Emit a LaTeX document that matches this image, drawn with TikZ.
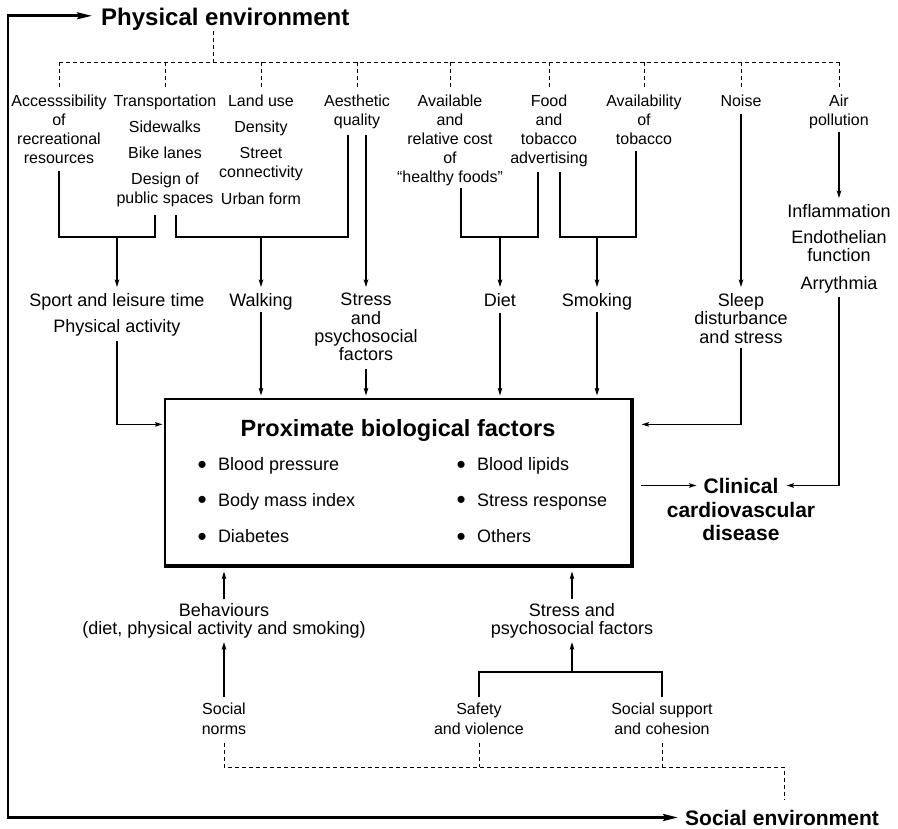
\documentclass[tikz,border=0pt]{standalone}
\usepackage{fontspec}
\setmainfont{Liberation Sans}
\usetikzlibrary{arrows.meta}
\newcommand{\bdot}{\makebox[19pt][l]{\hspace{-1.5pt}\raisebox{-2.7pt}{\fontsize{26}{26}\selectfont •}}}

\begin{document}
\begin{tikzpicture}[x=1pt, y=-1pt,
  toplbl/.style={align=center, inner sep=0pt, anchor=north, font=\fontsize{16}{19}\selectfont},
  midlbl/.style={align=center, inner sep=0pt, anchor=north, font=\fontsize{18}{18.5}\selectfont},
  botlbl/.style={align=center, inner sep=0pt, anchor=north, font=\fontsize{16}{20}\selectfont},
  head/.style={inner sep=0pt, font=\bfseries\fontsize{24}{26}\selectfont},
  bitem/.style={inner sep=0pt, anchor=base west, font=\fontsize{18}{20}\selectfont},
  ln/.style={line width=1.1pt},
  arr/.style={ln, -{Stealth[length=7.5pt,width=4.6pt,inset=1.5pt]}},
  dashln/.style={line width=0.9pt, dash pattern=on 4pt off 3pt},
  loopline/.style={line width=2.6pt, {Stealth[length=15pt,width=7pt,inset=2.5pt]}-{Stealth[length=15pt,width=7pt,inset=2.5pt]}}]
	\useasboundingbox (0,0) rectangle (898,829);

	% Headings of the two environments
	\node[head, anchor=base west] (phys) at (101,26) {Physical environment};
	\node[head, anchor=base west, font=\bfseries\fontsize{21}{23}\selectfont] (soc) at (685,825) {Social environment};

	% Physical environment factors
	\node[toplbl] (access) at (59,94.5) {Accesssibility\\of\\recreational\\resources};
	\node[toplbl] (transp) at (165,94.5) {Transportation\\[7.3pt]Sidewalks\\[7pt]Bike lanes\\[7pt]Design of\\public spaces};
	\node[toplbl] (landuse) at (261,94.5) {Land use\\[7.3pt]Density\\[7pt]Street\\connectivity\\[7.5pt]Urban form};
	\node[toplbl] (aesth) at (357,94.5) {Aesthetic\\quality};
	\node[toplbl] (avail) at (450,94.5) {Available\\and\\relative cost\\of\\“healthy foods”};
	\node[toplbl] (food) at (549,94.5) {Food\\and\\tobacco\\advertising};
	\node[toplbl] (tobav) at (644,94.5) {Availability\\of\\tobacco};
	\node[toplbl] (noise) at (741,94.5) {Noise};
	\node[toplbl] (air) at (839,94.5) {Air\\pollution};

	% Pathways
	\node[midlbl] (sport) at (117,293) {Sport and leisure time\\[7.3pt]Physical activity};
	\node[midlbl] (walk) at (261,293) {Walking};
	\node[midlbl, font=\fontsize{18}{18.3}\selectfont] (stress1) at (366,293) {Stress\\and\\psychosocial\\factors};
	\node[midlbl] (diet) at (500,293) {Diet};
	\node[midlbl] (smoke) at (597,293) {Smoking};
	\node[midlbl] (sleep) at (741,293) {Sleep\\disturbance\\and stress};
	\node[midlbl, font=\fontsize{18}{18}\selectfont] (infl) at (839,204) {Inflammation\\[8.7pt]Endothelian\\function\\[9.3pt]Arrythmia};

	% Proximate biological factors
	\node[draw, line width=1.2pt, minimum width=466pt, minimum height=166pt, inner sep=0pt] (box) at (398,482) {};
	\draw[line width=2.4pt] ([xshift=1pt]box.north east) -- ([xshift=1pt,yshift=-1pt]box.south east) -- ([yshift=-1pt]box.south west);
	\node[inner sep=0pt, anchor=base, font=\bfseries\fontsize{23.5}{25}\selectfont] (title) at (398,436.7) {Proximate biological factors};
	\node[bitem] (bp) at (198.8,470.7) {\bdot Blood pressure};
	\node[bitem] (bmi) at (198.8,506) {\bdot Body mass index};
	\node[bitem] (diab) at (198.8,542.7) {\bdot Diabetes};
	\node[bitem] (lipid) at (457.8,470.7) {\bdot Blood lipids};
	\node[bitem] (sresp) at (457.8,506) {\bdot Stress response};
	\node[bitem] (other) at (457.8,542.7) {\bdot Others};

	% Outcome
	\node[inner sep=0pt, anchor=base, font=\bfseries\fontsize{21}{23}\selectfont] (clin) at (741,493) {Clinical};
	\node[inner sep=0pt, anchor=north, align=center, font=\bfseries\fontsize{21}{23.5}\selectfont] (cvd) at (741,501.7) {cardiovascular\\disease};

	% Social environment factors
	\node[midlbl, font=\fontsize{18}{18}\selectfont] (beh) at (224,603) {Behaviours\\(diet, physical activity and smoking)};
	\node[midlbl, font=\fontsize{18}{18}\selectfont] (stress2) at (572,603) {Stress and\\psychosocial factors};
	\node[botlbl] (norms) at (224,702.5) {Social\\norms};
	\node[botlbl] (safety) at (479,702.5) {Safety\\and violence};
	\node[botlbl] (support) at (662,702.5) {Social support\\and cohesion};

	% Dashed trees from the environments
	\coordinate (pbus) at (213,62);
	\draw[dashln] (phys.south -| pbus) -- (pbus);
	\draw[dashln] (access.north |- pbus) -- (air.north |- pbus);
	\foreach \n in {access,transp,landuse,aesth,avail,food,tobav,noise,air}
		\draw[dashln, shorten >=6.5pt] (\n.north |- pbus) -- (\n.north);
	\coordinate (sbus) at (784,767);
	\draw[dashln, shorten <=8pt, shorten >=10pt] (norms.south) |- (sbus) -- (sbus |- soc.north);
	\foreach \n in {safety,support}
		\draw[dashln, shorten <=8pt] (\n.south) -- (\n.south |- sbus);

	% Loop between the two environments
	\coordinate (lcorner) at (8,817);
	\draw[loopline, shorten <=9pt, shorten >=7pt] ([yshift=4pt]phys.west) -| (lcorner) |- (soc.west);

	% Brackets and arrows, top half
	\coordinate (jsport) at (117,237);
	\coordinate (jwalk) at (261,237);
	\coordinate (jdiet) at (500,237);
	\coordinate (jsmoke) at (597,237);
	\draw[ln, shorten <=7pt, shorten >=8.3pt] (access.south) |- (jsport) -| ([xshift=-10pt]transp.south);
	\draw[ln, shorten <=8.3pt, shorten >=6.6pt] ([xshift=11pt]transp.south) |- (jwalk) -| ([xshift=-9pt]aesth.south);
	\draw[ln, shorten <=2.6pt, shorten >=5.6pt] ([xshift=11pt]avail.south) |- (jdiet) -| ([xshift=-11pt]food.south);
	\draw[ln, shorten <=5.6pt, shorten >=6pt] ([xshift=11pt]food.south) |- (jsmoke) -| ([xshift=-8pt]tobav.south);
	\draw[arr, shorten >=6pt] (jsport) -- (sport.north);
	\draw[arr, shorten >=6pt] (jwalk) -- (walk.north);
	\draw[arr, shorten <=6.6pt, shorten >=6pt] (stress1.north |- aesth.south) -- (stress1.north);
	\draw[arr, shorten >=6pt] (jdiet) -- (diet.north);
	\draw[arr, shorten >=6pt] (jsmoke) -- (smoke.north);
	\draw[arr, shorten <=7pt, shorten >=6pt] (noise.south) -- (sleep.north);
	\draw[arr, shorten <=3.6pt, shorten >=6pt] (air.south) -- (infl.north);

	% Arrows into the box and to the outcome
	\draw[arr, shorten <=5pt, shorten >=2pt] (sport.south) |- ([yshift=-26pt]box.north west);
	\draw[arr, shorten <=2.2pt, shorten >=3pt] (walk.south) -- (walk.south |- box.north);
	\draw[arr, shorten <=8pt, shorten >=3pt] (stress1.south) -- (stress1.south |- box.north);
	\draw[arr, shorten <=6pt, shorten >=3pt] (diet.south) -- (diet.south |- box.north);
	\draw[arr, shorten <=2.2pt, shorten >=3pt] (smoke.south) -- (smoke.south |- box.north);
	\draw[arr, shorten <=4pt, shorten >=10pt] (sleep.south) |- ([yshift=-26pt]box.north east);
	\draw[arr, shorten <=9pt, shorten >=7pt] (box.east |- clin.west) -- (clin.west);
	\draw[arr, shorten <=4pt, shorten >=8pt] (infl.south) |- (clin.east);

	% Bottom half
	\coordinate (jstress) at (572,672);
	\draw[arr, shorten <=4pt, shorten >=6pt] (beh.north) -- (beh.north |- box.south);
	\draw[arr, shorten <=4pt, shorten >=6pt] (stress2.north) -- (stress2.north |- box.south);
	\draw[arr, shorten <=5.5pt, shorten >=4pt] (norms.north) -- (beh.south);
	\draw[ln, shorten <=5.5pt, shorten >=5.5pt] (safety.north) |- (jstress) -| (support.north);
	\draw[arr, shorten >=4pt] (jstress) -- (stress2.south);
\end{tikzpicture}
\end{document}
